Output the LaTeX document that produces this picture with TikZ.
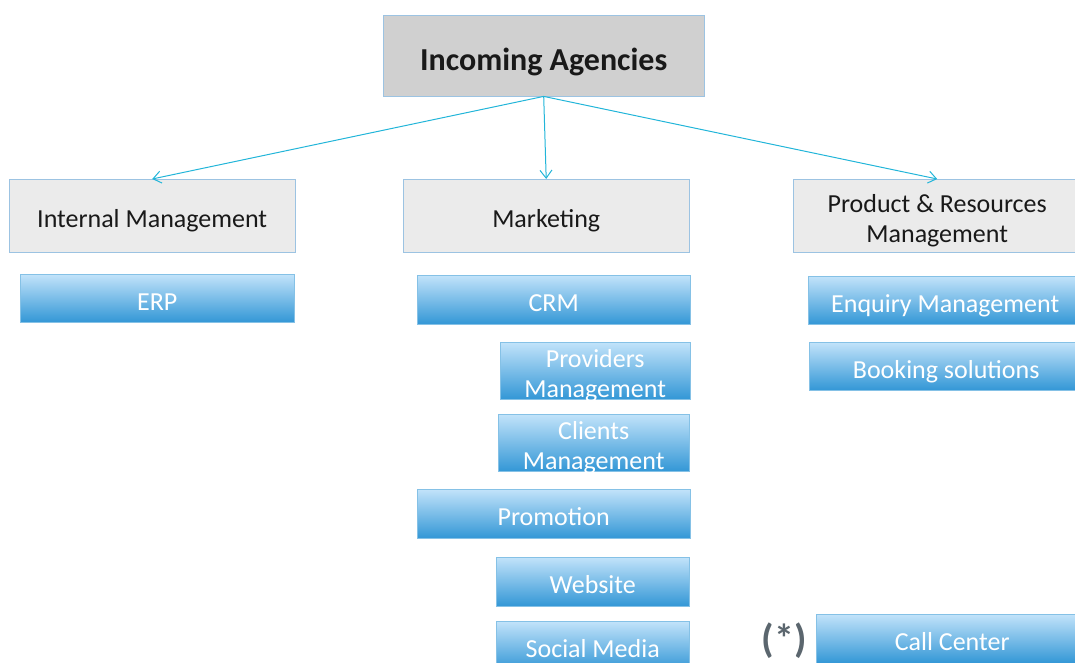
\documentclass[tikz,border=0pt]{standalone}
\usepackage{fontspec}
\setmainfont{Carlito}
\usetikzlibrary{arrows.meta,positioning}
\definecolor{edgeblue}{HTML}{9CC3E2}
\definecolor{linkcyan}{HTML}{22B5D9}
\definecolor{headgray}{HTML}{D0D0D0}
\definecolor{areagray}{HTML}{EBEBEB}
\definecolor{toolhigh}{HTML}{C2E3FA}
\definecolor{toollow}{HTML}{3397D6}
\definecolor{starcol}{HTML}{5B666E}

\begin{document}
\begin{tikzpicture}[x=1pt,y=-1pt,
  head/.style={draw=edgeblue, fill=headgray, anchor=north west, inner sep=0pt,
    text height=32pt, text depth=2pt,
    font=\fontsize{32}{36}\selectfont\bfseries, text=black!90},
  area/.style={draw=edgeblue, fill=areagray, anchor=north west, inner sep=0pt,
    align=center, font=\fontsize{26}{30}\selectfont, text=black!90},
  tool/.style={draw=toollow!60, top color=toolhigh, bottom color=toollow,
    anchor=north west, inner sep=0pt, align=center,
    font=\fontsize{26}{30}\selectfont, text=white},
  oneline/.style={text height=26pt, text depth=2.4pt},
  twoline/.style={text height=55pt, text depth=1.5pt},
  link/.style={linkcyan, line width=1pt, -{Straight Barb[length=8pt,width=12pt]}}]
\useasboundingbox (0,0) rectangle (1075,663);
\clip (0,0) rectangle (1075,663);

% Top box
\node[head, minimum width=321pt, minimum height=81pt] (agencies) at (383,15) {Incoming Agencies};

% Areas
\node[area, oneline, minimum width=286pt, minimum height=73pt] (internal) at (9,179) {Internal Management};
\node[area, oneline, minimum width=286pt, minimum height=73pt] (marketing) at (403,179) {Marketing};
\node[area, twoline, minimum width=288pt, minimum height=73pt] (product) at (793,179) {Product \& Resources\\Management};

% Arrows from the top box
\draw[link] (agencies.south) -- (internal.north);
\draw[link] (agencies.south) -- (marketing.north);
\draw[link] (agencies.south) -- (product.north);

% Internal management tools
\node[tool, oneline, minimum width=274pt, minimum height=48pt] (erp) at (20,274) {ERP};

% Marketing tools
\node[tool, oneline, minimum width=273pt, minimum height=49pt] (crm) at (417,275) {CRM};
\node[tool, twoline, minimum width=190pt, minimum height=57pt] (providers) at (500,342) {Providers\\Management};
\node[tool, twoline, minimum width=191pt, minimum height=57pt] (clients) at (498,414) {Clients\\Management};
\node[tool, oneline, minimum width=273pt, minimum height=49pt] (promotion) at (417,489) {Promotion};
\node[tool, oneline, minimum width=193pt, minimum height=49pt] (website) at (496,557) {Website};
\node[tool, oneline, minimum width=193pt, minimum height=49pt] (social) at (496,621) {Social Media};

% Product & resources tools
\node[tool, oneline, minimum width=274pt, minimum height=48pt] (enquiry) at (808,276) {Enquiry Management};
\node[tool, oneline, minimum width=274pt, minimum height=48pt] (booking) at (809,342) {Booking solutions};
\node[tool, oneline, minimum width=272pt, minimum height=49pt] (callcenter) at (816,614) {Call Center};
\node[left=6pt of callcenter, yshift=-2pt, text=starcol, font=\fontsize{40}{44}\selectfont\bfseries] (star) {(*)};
\end{tikzpicture}
\end{document}
